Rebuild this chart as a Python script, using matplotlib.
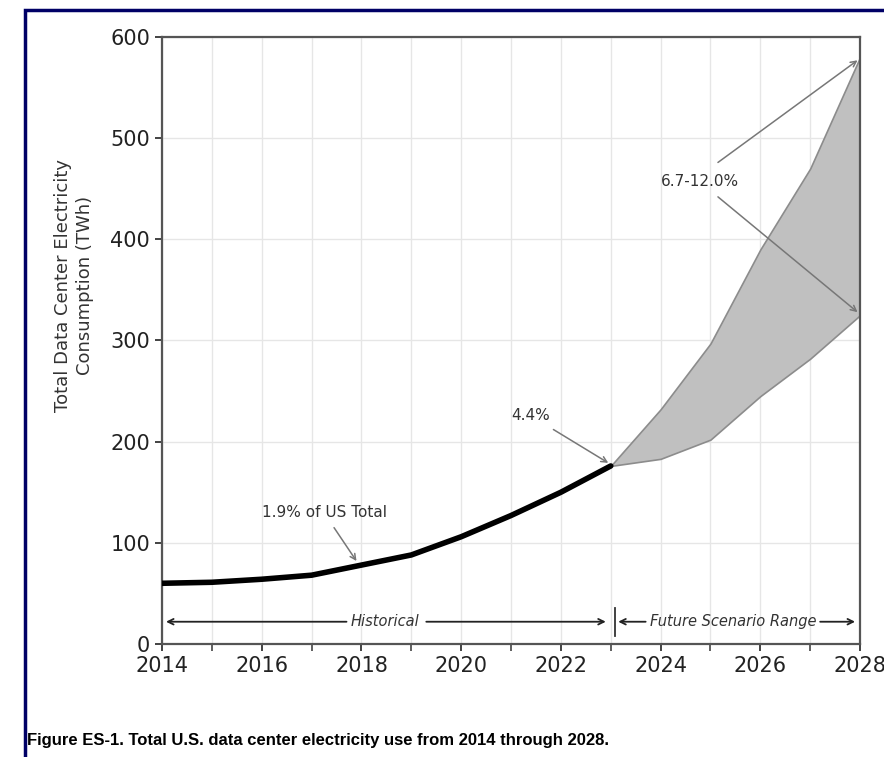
import numpy as np
import matplotlib
matplotlib.use('Agg')
import matplotlib.pyplot as plt
from matplotlib.patches import Rectangle
from matplotlib.ticker import MultipleLocator

# historical consumption (TWh)
hist_years = [2014, 2015, 2016, 2017, 2018, 2019, 2020, 2021, 2022, 2023]
hist_twh = [60, 61, 64, 68, 78, 88, 106, 127, 150, 176]

# scenario range 2023-2028 (TWh)
proj_years = [2023, 2024, 2025, 2026, 2027, 2028]
proj_low = [176, 183, 202, 245, 282, 325]
proj_high = [176, 232, 297, 390, 470, 580]

x_ticks = [2014, 2016, 2018, 2020, 2022, 2024, 2026, 2028]
y_ticks = [0, 100, 200, 300, 400, 500, 600]

fig = plt.figure(figsize=(8.84, 7.57), dpi=100)
ax = fig.add_axes([0.1833, 0.1493, 0.7896, 0.8018])

ax.fill_between(proj_years, proj_low, proj_high, facecolor='#c0c0c0',
                edgecolor='#8c8c8c', linewidth=1.2, zorder=2)
ax.plot(hist_years, hist_twh, color='black', linewidth=4, zorder=3,
        solid_capstyle='round', solid_joinstyle='round')

ax.set_xlim(2014, 2028)
ax.set_ylim(0, 600)
ax.set_xticks(x_ticks)
ax.set_yticks(y_ticks)
ax.xaxis.set_minor_locator(MultipleLocator(1))
ax.tick_params(axis='both', which='major', labelsize=15, colors='#222222',
               length=5, width=1.2)
ax.tick_params(axis='x', which='minor', length=5, width=1.2, color='#444444')
ax.grid(True, which='both', axis='x', color='#e6e6e6', linewidth=1)
ax.grid(True, which='major', axis='y', color='#e6e6e6', linewidth=1)
ax.set_axisbelow(True)
for s in ax.spines.values():
    s.set_color('#555555')
    s.set_linewidth(1.6)

ax.set_ylabel('Total Data Center Electricity\nConsumption (TWh)', fontsize=13,
              color='#333333', linespacing=1.3)
ax.yaxis.set_label_coords(-0.097, 0.59)

note_kw = dict(fontsize=11, color='#333333', ha='center', va='center')
arrow_kw = dict(arrowstyle='->', color='#777777', lw=1.1, shrinkA=0, shrinkB=0)

ax.annotate('1.9% of US Total', xy=(2017.9, 82), xytext=(2017.25, 130),
            **note_kw)
ax.annotate('', xy=(2017.9, 82), xytext=(2017.45, 115), arrowprops=arrow_kw)
ax.annotate('4.4%', xy=(2022.95, 179), xytext=(2021.4, 226), **note_kw)
ax.annotate('', xy=(2022.95, 179), xytext=(2021.85, 212), arrowprops=arrow_kw)
ax.annotate('6.7-12.0%', xy=(2024.78, 457), **note_kw)
ax.annotate('', xy=(2027.95, 577), xytext=(2025.15, 476), arrowprops=arrow_kw)
ax.annotate('', xy=(2027.95, 328), xytext=(2025.15, 442), arrowprops=arrow_kw)

# period markers along the bottom
period_kw = dict(arrowstyle='->', color='#222222', lw=1.3, shrinkA=0, shrinkB=0)
ax.text(2018.48, 22, 'Historical', fontsize=10.5, style='italic',
        color='#333333', ha='center', va='center')
ax.annotate('', xy=(2014.08, 22), xytext=(2017.7, 22), arrowprops=period_kw)
ax.annotate('', xy=(2022.9, 22), xytext=(2019.3, 22), arrowprops=period_kw)
ax.plot([2023.08, 2023.08], [8, 36], color='#333333', lw=1.3)
ax.text(2025.45, 22, 'Future Scenario Range', fontsize=10.5, style='italic',
        color='#333333', ha='center', va='center')
ax.annotate('', xy=(2023.15, 22), xytext=(2023.7, 22), arrowprops=period_kw)
ax.annotate('', xy=(2027.9, 22), xytext=(2027.2, 22), arrowprops=period_kw)

fig.text(27 / 884, 1 - 741 / 757,
         'Figure ES-1. Total U.S. data center electricity use from 2014 through 2028.',
         fontsize=12, fontweight='bold', family='Liberation Sans',
         ha='left', va='center', color='black')

# page frame
fig.patches.append(Rectangle((25 / 884, -0.1), 1.2, 1 - 10 / 757 + 0.1,
                             transform=fig.transFigure, fill=False,
                             edgecolor='#000066', linewidth=2.5))

fig.savefig('out.png', dpi=100)
